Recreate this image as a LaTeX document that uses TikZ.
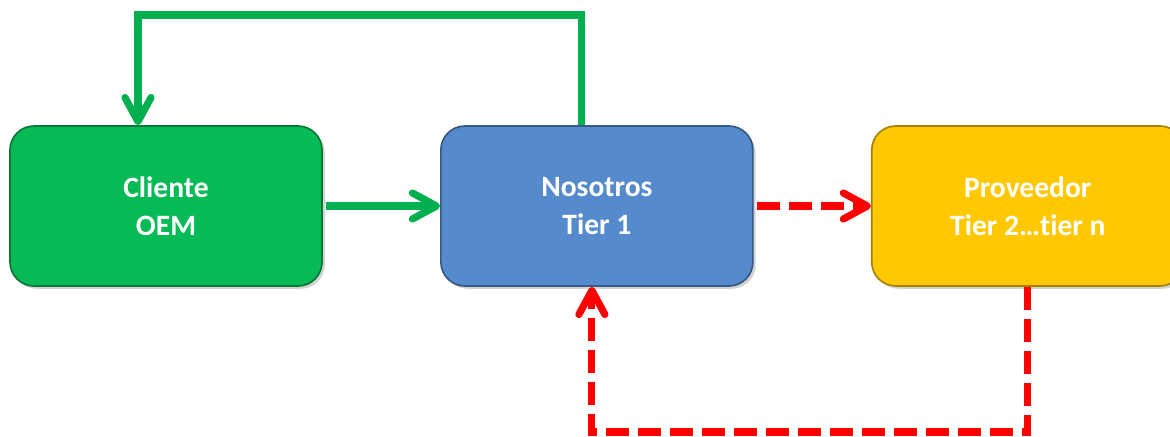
\documentclass[tikz,border=0pt]{standalone}
\usepackage{fontspec}
\setmainfont{Carlito}[Ligatures=NoCommon]
\usetikzlibrary{positioning}
\usetikzlibrary{arrows.meta}
\usetikzlibrary{shadows}
\definecolor{boxgreen}{RGB}{6,186,86}
\definecolor{boxblue}{RGB}{85,138,204}
\definecolor{boxgold}{RGB}{255,200,0}
\definecolor{lngreen}{RGB}{0,176,80}
\definecolor{lnred}{RGB}{255,0,0}
\tikzset{
	boxnode/.style={rectangle,rounded corners=0.6cm,minimum width=7.8cm,minimum height=4cm,inner sep=0pt,
		fill=#1,draw=#1!65!black,line width=1.2pt,text=white,align=center,
		font=\fontsize{21pt}{27pt}\selectfont\bfseries,
		drop shadow={shadow xshift=2pt,shadow yshift=-2pt,opacity=0.35}},
	greenline/.style={draw=lngreen,line width=0.18cm,-{Straight Barb[length=6mm,width=6.5mm,round]}},
	redline/.style={draw=lnred,line width=0.18cm,dash pattern=on 0.575cm off 0.225cm,-{Straight Barb[length=6mm,width=6.5mm,round]}}
}

\begin{document}
\begin{tikzpicture}
	\useasboundingbox (0,0) rectangle (29.25,10.9);
	\node[boxnode=boxgreen] (cliente) at (4.15,5.75) {Cliente\\OEM};
	\node[boxnode=boxblue,right=2.93cm of cliente] (nosotros) {Nosotros\\Tier 1};
	\node[boxnode=boxgold,right=2.93cm of nosotros] (proveedor) {Proveedor\\Tier 2…tier n};
	\coordinate (top) at (0,10.525);
	\coordinate (bottom) at (0,0.1);
	% flujo verde
	\draw[greenline,shorten <=2pt] (cliente.east) -- (nosotros.west);
	\draw[greenline] ([xshift=-3.75mm]nosotros.north) |- ([xshift=-7mm]cliente.north |- top) -- ([xshift=-7mm]cliente.north);
	% flujo rojo
	\draw[redline,shorten <=2pt] (nosotros.east) -- (proveedor.west);
	\draw[redline] (proveedor.south) |- ([xshift=-1.25mm]nosotros.south |- bottom) -- ([xshift=-1.25mm]nosotros.south);
\end{tikzpicture}
\end{document}
